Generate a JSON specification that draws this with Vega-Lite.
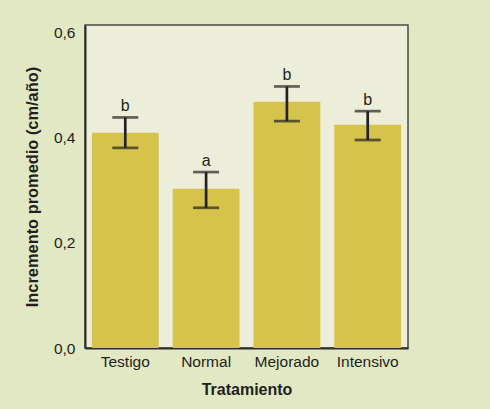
{
  "$schema": "https://vega.github.io/schema/vega-lite/v6.json",
  "width": 323,
  "height": 323,
  "autosize": {"type": "none"},
  "padding": {"left": 85, "top": 25, "right": 82, "bottom": 61},
  "background": "#e1e8c3",
  "config": {
    "font": "Liberation Sans",
    "view": {"fill": "#edeed9", "stroke": "#4a4a44", "strokeWidth": 1.5},
    "axis": {
      "grid": false,
      "ticks": false,
      "domainColor": "#2e2e2a",
      "domainWidth": 2,
      "labelFont": "Liberation Sans",
      "labelFontSize": 15.5,
      "labelColor": "#231f20",
      "titleFont": "Liberation Sans",
      "titleFontSize": 16,
      "titleFontWeight": "bold",
      "titleColor": "#231f20"
    }
  },
  "data": {
    "values": [
      {"tratamiento": "Testigo", "incremento": 0.41, "inferior": 0.381, "superior": 0.439, "grupo": "b"},
      {"tratamiento": "Normal", "incremento": 0.303, "inferior": 0.267, "superior": 0.335, "grupo": "a"},
      {"tratamiento": "Mejorado", "incremento": 0.469, "inferior": 0.432, "superior": 0.498, "grupo": "b"},
      {"tratamiento": "Intensivo", "incremento": 0.425, "inferior": 0.396, "superior": 0.451, "grupo": "b"}
    ]
  },
  "encoding": {
    "x": {
      "field": "tratamiento",
      "type": "nominal",
      "sort": null,
      "title": "Tratamiento",
      "scale": {"paddingInner": 0.173, "paddingOuter": 0.085},
      "axis": {"labelAngle": 0, "labelPadding": 6, "titlePadding": 12}
    }
  },
  "layer": [
    {
      "mark": {"type": "bar", "color": "#d5c34c"},
      "encoding": {
        "y": {
          "field": "incremento",
          "type": "quantitative",
          "title": "Incremento promedio (cm/año)",
          "scale": {"domain": [0, 0.615], "nice": false},
          "axis": {
            "values": [0, 0.2, 0.4, 0.6],
            "labelExpr": "replace(format(datum.value, '.1f'), '.', ',')",
            "labelPadding": 10,
            "titlePadding": 13,
            "titleFontSize": 16.4
          }
        }
      }
    },
    {
      "mark": {"type": "rule", "color": "#222222", "strokeWidth": 2.7},
      "encoding": {
        "y": {"field": "inferior", "type": "quantitative"},
        "y2": {"field": "superior"}
      }
    },
    {
      "mark": {"type": "tick", "color": "#222222", "size": 26, "thickness": 2.7},
      "encoding": {"y": {"field": "inferior", "type": "quantitative"}}
    },
    {
      "mark": {"type": "tick", "color": "#222222", "size": 26, "thickness": 2.7},
      "encoding": {"y": {"field": "superior", "type": "quantitative"}}
    },
    {
      "mark": {"type": "text", "font": "Liberation Sans", "fontSize": 16, "color": "#231f20", "baseline": "alphabetic", "dy": -6},
      "encoding": {
        "y": {"field": "superior", "type": "quantitative"},
        "text": {"field": "grupo"}
      }
    }
  ]
}
